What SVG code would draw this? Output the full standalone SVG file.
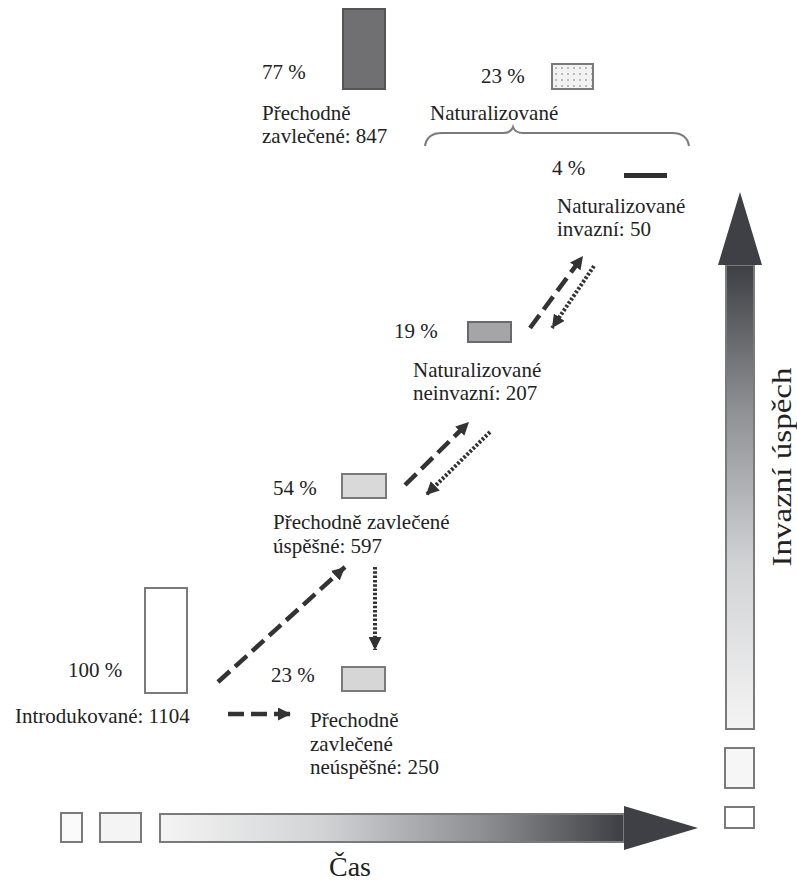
<svg xmlns="http://www.w3.org/2000/svg" width="797" height="885" viewBox="0 0 797 885" font-family="'Liberation Serif', 'Times New Roman', 'DejaVu Serif', serif">
<style>
  text { font-family: "Liberation Serif", "Times New Roman", "DejaVu Serif", serif; font-size: 21px; fill: #222; }
  .big { font-size: 28px; }
  .box { stroke: #7a7a7a; stroke-width: 2; }
  .dash { fill: none; stroke: #333; stroke-width: 4.5; stroke-dasharray: 16 7; }
  .dot { fill: none; stroke: #333; stroke-width: 4; stroke-dasharray: 2.5 1.8; }
</style>
<defs>
  <marker id="ah" viewBox="0 0 12 12" refX="12" refY="6" markerWidth="13" markerHeight="13" markerUnits="userSpaceOnUse" orient="auto">
    <path d="M0,0 L12,6 L0,12 Z" fill="#333"/>
  </marker>
  <pattern id="dots" width="6" height="6" patternUnits="userSpaceOnUse" x="553" y="65">
    <rect width="6" height="6" fill="#f2f2f2"/>
    <circle cx="3" cy="3" r="1" fill="#a8a8a8"/>
  </pattern>
  <linearGradient id="gh" x1="0" y1="0" x2="1" y2="0">
    <stop offset="0" stop-color="#f4f4f4"/>
    <stop offset="0.35" stop-color="#d2d3d5"/>
    <stop offset="0.7" stop-color="#8c8e91"/>
    <stop offset="1" stop-color="#3e3f44"/>
  </linearGradient>
  <linearGradient id="gv" x1="0" y1="1" x2="0" y2="0">
    <stop offset="0" stop-color="#f4f4f4"/>
    <stop offset="0.35" stop-color="#d2d3d5"/>
    <stop offset="0.7" stop-color="#8c8e91"/>
    <stop offset="1" stop-color="#3e3f44"/>
  </linearGradient>
</defs>

<g id="axis-time">
  <rect x="160" y="814" width="464" height="28" fill="url(#gh)" stroke="#7a7a7a" stroke-width="2"/>
  <polygon points="624,806 698,828 624,850" fill="#3f4045"/>
  <text class="big" x="350" y="876" text-anchor="middle">Čas</text>
</g>
<g id="axis-success">
  <rect x="726" y="265" width="28" height="464" fill="url(#gv)" stroke="#7a7a7a" stroke-width="2"/>
  <polygon points="718,265 740,192 762,265" fill="#3f4045"/>
  <text class="big" transform="translate(791,467) rotate(-90) scale(1.18,1)" text-anchor="middle">Invazní úspěch</text>
</g>
<g id="small-boxes">
  <rect class="box" x="61" y="813" width="21" height="29" fill="#fafafa"/>
  <rect class="box" x="100" y="813" width="41" height="29" fill="#f4f4f4"/>
  <rect class="box" x="725" y="748" width="29" height="40" fill="#f6f6f6"/>
  <rect class="box" x="725" y="807" width="29" height="21" fill="#ffffff"/>
</g>

<g id="prechodne-zavlecene">
  <rect x="343" y="9" width="42" height="80" fill="#707072" stroke="#555" stroke-width="2"/>
  <text x="262" y="79">77 %</text>
  <text x="262" y="120">Přechodně</text>
  <text x="262" y="143">zavlečené: 847</text>
</g>
<g id="naturalizovane">
  <rect class="box" x="552" y="64" width="41" height="25" fill="url(#dots)"/>
  <text x="481" y="83">23 %</text>
  <text x="430" y="120">Naturalizované</text>
  <path d="M425,146 Q427,133 442,133 L503,133 Q511,133 513,127 Q515,133 523,133 L672,133 Q687,133 689,146" fill="none" stroke="#7a7a7a" stroke-width="2"/>
</g>
<g id="naturalizovane-invazni">
  <rect x="624" y="173" width="43" height="5" fill="#2e2e33"/>
  <text x="552" y="175">4 %</text>
  <text x="557" y="213">Naturalizované</text>
  <text x="557" y="236">invazní: 50</text>
</g>
<g id="naturalizovane-neinvazni">
  <rect x="468" y="322" width="43" height="20" fill="#a5a5a8" stroke="#6a6a6a" stroke-width="2"/>
  <text x="394" y="338">19 %</text>
  <text x="413" y="377">Naturalizované</text>
  <text x="413" y="400">neinvazní: 207</text>
</g>
<g id="prechodne-uspesne">
  <rect class="box" x="342" y="474" width="44" height="24" fill="#d9d9d9"/>
  <text x="273" y="495">54 %</text>
  <text x="273" y="529">Přechodně zavlečené</text>
  <text x="273" y="553">úspěšné: 597</text>
</g>
<g id="introdukovane">
  <rect class="box" x="145" y="588" width="42" height="105" fill="#ffffff"/>
  <text x="68" y="677">100 %</text>
  <text x="15" y="723">Introdukované: 1104</text>
</g>
<g id="prechodne-neuspesne">
  <rect class="box" x="342" y="667" width="43" height="24" fill="#d6d6d6"/>
  <text x="271" y="682">23 %</text>
  <text x="310" y="727">Přechodně</text>
  <text x="310" y="751">zavlečené</text>
  <text x="310" y="774">neúspěšné: 250</text>
</g>

<g id="connectors">
  <line class="dash" x1="218" y1="682" x2="345" y2="567" marker-end="url(#ah)"/>
  <line class="dot" x1="375" y1="567" x2="375" y2="650" marker-end="url(#ah)"/>
  <line class="dash" x1="228" y1="714" x2="291" y2="714" marker-end="url(#ah)"/>
  <line class="dash" x1="405" y1="485" x2="469" y2="422" marker-end="url(#ah)"/>
  <line class="dot" x1="490" y1="432" x2="426" y2="495" marker-end="url(#ah)"/>
  <line class="dash" x1="530" y1="328" x2="583" y2="256" marker-end="url(#ah)"/>
  <line class="dot" x1="594" y1="266" x2="552" y2="328" marker-end="url(#ah)"/>
</g>
</svg>
